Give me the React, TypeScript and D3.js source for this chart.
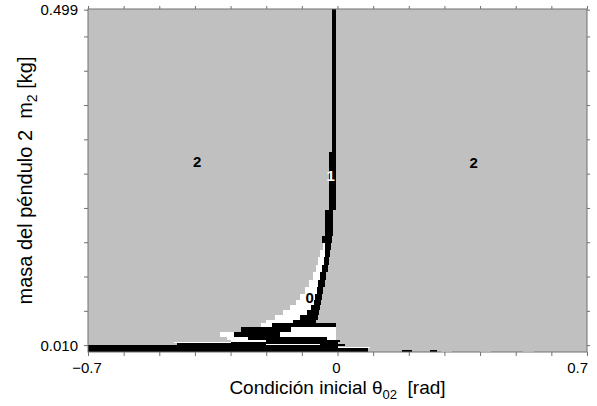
import * as d3 from "d3";
import { useEffect, useRef } from "react";

// basin map: 2 = gray (background), 1 = black, 0 = white
// cells: [theta0, theta1, m2_0, m2_1, basin]
const cells: [number, number, number, number, number][] = [
  [-0.015, -0.005, 0.2915, 0.5, 1],
  [-0.0245, -0.005, 0.207, 0.2915, 1],
  [-0.034, -0.013, 0.169, 0.207, 1],
  [-0.043, -0.016, 0.159, 0.169, 1],
  [-0.041, -0.036, 0.1487, 0.159, 0],
  [-0.036, -0.019, 0.1487, 0.159, 1],
  [-0.05, -0.036, 0.1385, 0.1487, 0],
  [-0.036, -0.022, 0.1385, 0.1487, 1],
  [-0.055, -0.039, 0.1268, 0.1385, 0],
  [-0.039, -0.025, 0.1268, 0.1385, 1],
  [-0.061, -0.044, 0.1166, 0.1268, 0],
  [-0.044, -0.027, 0.1166, 0.1268, 1],
  [-0.069, -0.05, 0.105, 0.1166, 0],
  [-0.05, -0.033, 0.105, 0.1166, 1],
  [-0.08, -0.055, 0.0948, 0.105, 0],
  [-0.055, -0.036, 0.0948, 0.105, 1],
  [-0.092, -0.058, 0.0845, 0.0948, 0],
  [-0.058, -0.041, 0.0845, 0.0948, 1],
  [-0.104, -0.062, 0.0758, 0.0845, 0],
  [-0.062, -0.044, 0.0758, 0.0845, 1],
  [-0.116, -0.067, 0.0685, 0.0758, 0],
  [-0.067, -0.045, 0.0685, 0.0758, 1],
  [-0.132, -0.075, 0.0612, 0.0685, 0],
  [-0.075, -0.048, 0.0612, 0.0685, 1],
  [-0.152, -0.086, 0.0539, 0.0612, 0],
  [-0.086, -0.052, 0.0539, 0.0612, 1],
  [-0.174, -0.104, 0.0466, 0.0539, 0],
  [-0.104, -0.055, 0.0466, 0.0539, 1],
  [-0.2, -0.125, 0.0423, 0.0466, 0],
  [-0.125, -0.06, 0.0423, 0.0466, 1],
  [-0.215, -0.184, 0.0364, 0.0423, 0],
  [-0.184, -0.004, 0.0364, 0.0423, 1],
  [-0.27, -0.13, 0.0292, 0.0364, 1],
  [-0.13, -0.004, 0.0292, 0.0364, 0],
  [-0.33, -0.29, 0.0219, 0.0292, 0],
  [-0.29, -0.16, 0.0219, 0.0292, 1],
  [-0.16, -0.004, 0.0219, 0.0292, 0],
  [-0.31, -0.25, 0.0175, 0.0219, 0],
  [-0.25, -0.03, 0.0175, 0.0219, 1],
  [-0.03, -0.004, 0.0175, 0.0219, 0],
  [-0.46, -0.3, 0.0131, 0.0146, 0],
  [-0.3, 0.006, 0.0146, 0.0175, 1],
  [-0.3, -0.2, 0.0146, 0.0175, 0],
  [-0.7, -0.45, 0.0, 0.0102, 1],
  [-0.45, -0.3, 0.0, 0.0131, 1],
  [-0.3, 0.0, 0.0, 0.0146, 1],
  [-0.2, -0.05, 0.0105, 0.012, 0],
  [0.0, 0.02, 0.0087, 0.0117, 1],
  [0.0, 0.09, 0.0058, 0.0073, 0],
  [0.0, 0.085, 0.0, 0.0058, 1],
  [0.18, 0.21, 0.0, 0.003, 1],
  [0.26, 0.28, 0.0, 0.003, 1],
  [0.29, 0.32, 0.0, 0.002, 0],
  [0.4, 0.43, 0.0, 0.002, 0],
  [0.52, 0.55, 0.0, 0.002, 0],
];

// region labels [theta, m2, text, basin]
const regionLabels: [number, number, string, number][] = [
  [-0.394, 0.277, "2", 2],
  [0.382, 0.276, "2", 2],
  [-0.019, 0.2566, "1", 1],
  [-0.078, 0.08, "0", 0],
];

const xTicks = d3.range(-7, 8).map((k) => k / 10);
const xTickLabels = [-0.7, 0, 0.7];
const yTicks = [...d3.range(0, 10).map((k) => 0.01 + k * 0.05), 0.499];
const yTickLabels = [0.01, 0.499];

const basinColor = ["#ffffff", "#000000", "#c0c0c0"];

export default function App() {
  const ref = useRef<SVGSVGElement>(null);

  useEffect(() => {
    const svg = d3.select(ref.current);
    svg.selectAll("*").remove();

    const margin = { top: 9, right: 10, bottom: 54, left: 88 };
    const width = 597, height = 406;
    const x = d3.scaleLinear().domain([-0.7, 0.7]).range([margin.left, width - margin.right]);
    const y = d3.scaleLinear().domain([0, 0.5]).range([height - margin.bottom, margin.top]);
    const font = "'Liberation Sans', Arial, sans-serif";

    // background = basin 2
    svg.append("rect")
      .attr("x", x(-0.7)).attr("y", y(0.5))
      .attr("width", x(0.7) - x(-0.7)).attr("height", y(0) - y(0.5))
      .attr("fill", basinColor[2]);

    svg.append("g")
      .selectAll("rect")
      .data(cells)
      .enter()
      .append("rect")
      .attr("x", (d) => x(d[0]))
      .attr("y", (d) => y(d[3]))
      .attr("width", (d) => x(d[1]) - x(d[0]))
      .attr("height", (d) => y(d[2]) - y(d[3]))
      .attr("fill", (d) => basinColor[d[4]])
      .attr("shape-rendering", "crispEdges");

    // frame
    svg.append("rect")
      .attr("x", x(-0.7)).attr("y", y(0.5))
      .attr("width", x(0.7) - x(-0.7)).attr("height", y(0) - y(0.5))
      .attr("fill", "none").attr("stroke", "#707070").attr("stroke-width", 1);

    const tickColor = "#707070";
    const bottom = svg.append("g").attr("transform", `translate(0,${y(0)})`)
      .call(d3.axisBottom(x).tickValues(xTicks).tickSize(4).tickFormat(() => ""));
    const top = svg.append("g").attr("transform", `translate(0,${y(0.5)})`)
      .call(d3.axisTop(x).tickValues(xTicks).tickSize(3).tickFormat(() => ""));
    const left = svg.append("g").attr("transform", `translate(${x(-0.7)},0)`)
      .call(d3.axisLeft(y).tickValues(yTicks).tickSize(4).tickFormat(() => ""));
    const right = svg.append("g").attr("transform", `translate(${x(0.7)},0)`)
      .call(d3.axisRight(y).tickValues(yTicks).tickSize(3).tickFormat(() => ""));
    [bottom, top, left, right].forEach((g) => {
      g.select(".domain").remove();
      g.selectAll("line").attr("stroke", tickColor);
    });

    // tick labels
    svg.append("g")
      .selectAll("text")
      .data(xTickLabels)
      .enter()
      .append("text")
      .attr("x", (d) => (d === 0.7 ? x(d) + 1 : x(d) - 1))
      .attr("y", y(0) + 21)
      .attr("text-anchor", (d) => (d === 0.7 ? "end" : "middle"))
      .attr("font-family", font)
      .attr("font-size", 15)
      .text((d) => (d === 0 ? "0" : d3.format(".1f")(d)));

    svg.append("g")
      .selectAll("text")
      .data(yTickLabels)
      .enter()
      .append("text")
      .attr("x", x(-0.7) - 10)
      .attr("y", (d) => y(d) + 5.5)
      .attr("text-anchor", "end")
      .attr("font-family", font)
      .attr("font-size", 15)
      .text((d) => d3.format(".3f")(d));

    // region labels
    svg.append("g")
      .selectAll("text")
      .data(regionLabels)
      .enter()
      .append("text")
      .attr("x", (d) => x(d[0]))
      .attr("y", (d) => y(d[1]) + 5.5)
      .attr("text-anchor", "middle")
      .attr("font-family", font)
      .attr("font-size", 15)
      .attr("font-weight", "bold")
      .attr("fill", (d) => (d[3] === 1 ? "#ffffff" : "#000000"))
      .text((d) => d[2]);

    // axis titles
    const xt = svg.append("text")
      .attr("x", (x(-0.7) + x(0.7)) / 2)
      .attr("y", 394)
      .attr("text-anchor", "middle")
      .attr("font-family", font)
      .attr("font-size", 19);
    xt.append("tspan").text("Condición inicial θ");
    xt.append("tspan").attr("font-size", 13).attr("dy", 5).text("02");
    xt.append("tspan").attr("dy", -5).text("\u00a0\u00a0[rad]");

    const yt = svg.append("text")
      .attr("transform", `translate(32,${(y(0) + y(0.5)) / 2}) rotate(-90)`)
      .attr("text-anchor", "middle")
      .attr("font-family", font)
      .attr("font-size", 20);
    yt.append("tspan").text("masa del péndulo 2\u00a0\u00a0m");
    yt.append("tspan").attr("font-size", 14).attr("dy", 5).text("2");
    yt.append("tspan").attr("dy", -5).text(" [kg]");
  }, []);

  return (
    <svg
      ref={ref}
      width={597}
      height={406}
      style={{ position: "absolute", left: 0, top: 0, background: "#ffffff" }}
    />
  );
}
